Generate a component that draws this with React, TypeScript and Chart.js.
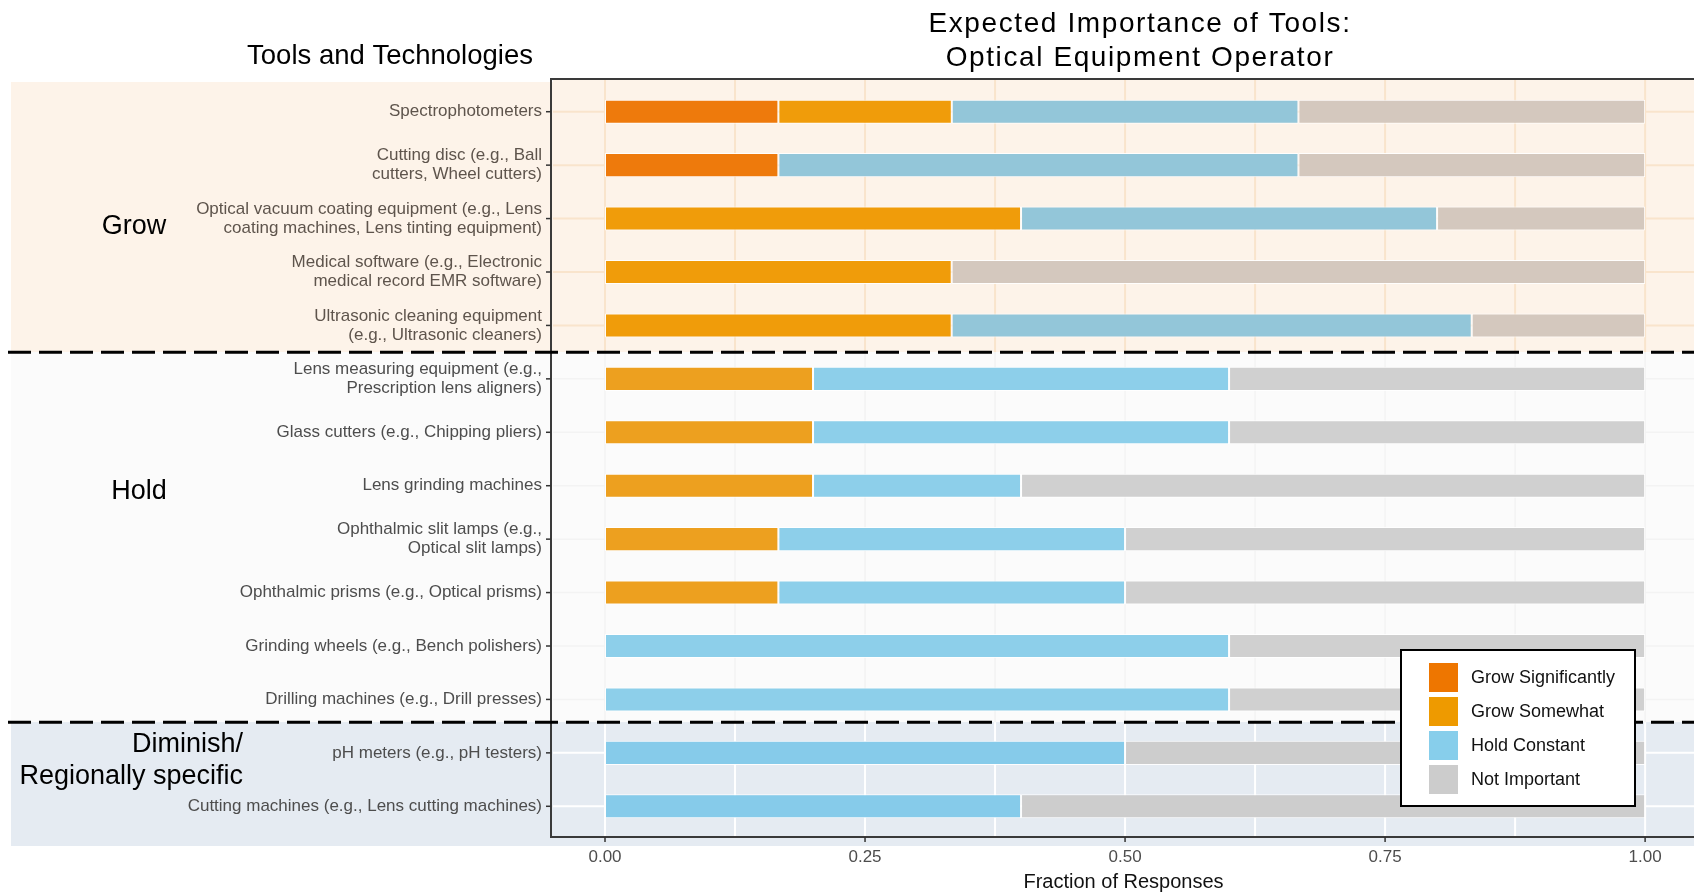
import React, { useEffect, useRef } from "react";
import { Chart, registerables } from "chart.js";

Chart.register(...registerables);

const W = 1694;
const H = 894;

// ---------- data ----------
const categories: (string | string[])[] = [
  "Spectrophotometers",
  ["Cutting disc (e.g., Ball", "cutters, Wheel cutters)"],
  ["Optical vacuum coating equipment (e.g., Lens", "coating machines, Lens tinting equipment)"],
  ["Medical software (e.g., Electronic", "medical record EMR software)"],
  ["Ultrasonic cleaning equipment", "(e.g., Ultrasonic cleaners)"],
  ["Lens measuring equipment (e.g.,", "Prescription lens aligners)"],
  "Glass cutters (e.g., Chipping pliers)",
  "Lens grinding machines",
  ["Ophthalmic slit lamps (e.g.,", "Optical slit lamps)"],
  "Ophthalmic prisms (e.g., Optical prisms)",
  "Grinding wheels (e.g., Bench polishers)",
  "Drilling machines (e.g., Drill presses)",
  "pH meters (e.g., pH testers)",
  "Cutting machines (e.g., Lens cutting machines)",
];

const seriesNames = ["Grow Significantly", "Grow Somewhat", "Hold Constant", "Not Important"];

const growSignificantly = [0.1667, 0.1667, 0, 0, 0, 0, 0, 0, 0, 0, 0, 0, 0, 0];
const growSomewhat = [0.1667, 0, 0.4, 0.3333, 0.3333, 0.2, 0.2, 0.2, 0.1667, 0.1667, 0, 0, 0, 0];
const holdConstant = [0.3333, 0.5, 0.4, 0, 0.5, 0.4, 0.4, 0.2, 0.3333, 0.3333, 0.6, 0.6, 0.5, 0.4];
const notImportant = [0.3333, 0.3333, 0.2, 0.6667, 0.1667, 0.4, 0.4, 0.6, 0.5, 0.5, 0.4, 0.4, 0.5, 0.6];

const xTickValues = [0, 0.25, 0.5, 0.75, 1];
const xMinorValues = [0.125, 0.375, 0.625, 0.875];

const regionNames = ["Grow", "Hold", "Diminish/\nRegionally specific"];
const regionSizes = [5, 7, 2];

// ---------- styles ----------
const legendColors = ["#EE7600", "#EE9A00", "#87CEEB", "#CCCCCC"];
const regionBarColors = [
  ["#EE7A0C", "#F09C0A", "#93C6D9", "#D4C8BE"],
  ["#EE7600", "#EDA01F", "#8DCFEA", "#D0D0D0"],
  ["#EE7600", "#EE9A00", "#86CBEA", "#CDCDCD"],
];
const regionBg = ["#FDF3E9", "#FBFBFB", "#E5EBF2"];
const regionGrid = ["#F9E4CC", "#F3F3F3", "#FFFFFF"];

function regionOf(i: number): number {
  let acc = 0;
  for (let r = 0; r < regionSizes.length; r++) {
    acc += regionSizes[r];
    if (i < acc) return r;
  }
  return regionSizes.length - 1;
}

function narrowAvailable(): boolean {
  try {
    const c = document.createElement("canvas").getContext("2d")!;
    const s = "Spectrophotometers (e.g., Ball)";
    c.font = "20px monospace";
    const a = c.measureText(s).width;
    c.font = '20px "Liberation Sans Narrow", monospace';
    const b = c.measureText(s).width;
    return Math.abs(a - b) > 1;
  } catch (e) {
    return false;
  }
}

export default function App() {
  const ref = useRef<HTMLCanvasElement>(null);

  useEffect(() => {
    document.body.style.margin = "0";
    const narrow = narrowAvailable();
    const tickFont = narrow
      ? { family: '"Liberation Sans Narrow", "Liberation Sans", Arial, sans-serif', size: 20, lineHeight: "19px" }
      : { family: '"Liberation Sans", Arial, sans-serif', size: 17, lineHeight: "19px" };
    const SANS = '"Liberation Sans", Arial, sans-serif';

    const seriesData = [growSignificantly, growSomewhat, holdConstant, notImportant];
    const datasets = seriesData.map((d, s) => ({
      label: seriesNames[s],
      data: d,
      backgroundColor: d.map((_, i) => regionBarColors[regionOf(i)][s]),
      borderColor: "rgba(255,255,255,0.9)",
      borderWidth: 1,
      borderSkipped: false as const,
      barPercentage: 0.45,
      categoryPercentage: 1,
    }));

    const geom = (chart: any) => {
      const { chartArea, scales } = chart;
      const y = scales.y;
      const n = categories.length;
      const panelTop = chartArea.top - 6;
      const panelBottom = chartArea.bottom + 4;
      const bounds: number[] = [];
      let acc = 0;
      const nudge = [0, -4];
      for (let r = 0; r < regionSizes.length - 1; r++) {
        acc += regionSizes[r];
        bounds.push((y.getPixelForValue(acc - 1) + y.getPixelForValue(acc)) / 2 + nudge[r]);
      }
      const regionTop = [panelTop + 3, bounds[0], bounds[1]];
      const regionBottom = [bounds[0], bounds[1], panelBottom + 9];
      return { panelTop, panelBottom, bounds, regionTop, regionBottom, n };
    };

    const decor = {
      id: "decor",
      beforeDraw(chart: any) {
        const { ctx, chartArea, scales } = chart;
        const g = geom(chart);
        const x = scales.x;
        const y = scales.y;
        ctx.save();
        ctx.fillStyle = "#FFFFFF";
        ctx.fillRect(0, 0, W, H);
        for (let r = 0; r < 3; r++) {
          ctx.fillStyle = regionBg[r];
          ctx.fillRect(11, g.regionTop[r], W - 11, g.regionBottom[r] - g.regionTop[r]);
        }
        ctx.fillStyle = regionBg[0];
        ctx.fillRect(chartArea.left, g.panelTop, W - chartArea.left, 4);
        const allV = [...xTickValues, ...xMinorValues];
        for (let r = 0; r < 3; r++) {
          const top = r === 0 ? g.panelTop : g.regionTop[r];
          const bot = r === 2 ? g.panelBottom : g.regionBottom[r];
          ctx.strokeStyle = regionGrid[r];
          ctx.lineWidth = r === 1 ? 1.5 : 2;
          for (const v of allV) {
            const px = x.getPixelForValue(v);
            ctx.beginPath();
            ctx.moveTo(px, top);
            ctx.lineTo(px, bot);
            ctx.stroke();
          }
        }
        for (let i = 0; i < g.n; i++) {
          const r = regionOf(i);
          const py = y.getPixelForValue(i);
          ctx.strokeStyle = regionGrid[r];
          ctx.lineWidth = r === 1 ? 1.5 : 2;
          ctx.beginPath();
          ctx.moveTo(chartArea.left, py);
          ctx.lineTo(W, py);
          ctx.stroke();
        }
        ctx.restore();
      },
      afterDraw(chart: any) {
        const { ctx, chartArea, scales } = chart;
        const g = geom(chart);
        const x = scales.x;
        const y = scales.y;
        const left = chartArea.left - 2;
        ctx.save();
        ctx.strokeStyle = "#3A3A3A";
        ctx.lineWidth = 2;
        ctx.beginPath();
        ctx.moveTo(W, g.panelTop);
        ctx.lineTo(left, g.panelTop);
        ctx.lineTo(left, g.panelBottom);
        ctx.lineTo(W, g.panelBottom);
        ctx.stroke();
        ctx.strokeStyle = "#333333";
        ctx.lineWidth = 1.5;
        for (let i = 0; i < g.n; i++) {
          const py = y.getPixelForValue(i);
          ctx.beginPath();
          ctx.moveTo(left - 5, py);
          ctx.lineTo(left, py);
          ctx.stroke();
        }
        for (const v of xTickValues) {
          const px = x.getPixelForValue(v);
          ctx.beginPath();
          ctx.moveTo(px, g.panelBottom);
          ctx.lineTo(px, g.panelBottom + 5);
          ctx.stroke();
        }
        ctx.strokeStyle = "#000000";
        ctx.lineWidth = 3;
        ctx.setLineDash([23, 8]);
        for (const b of g.bounds) {
          ctx.beginPath();
          ctx.moveTo(8, b);
          ctx.lineTo(W, b);
          ctx.stroke();
        }
        ctx.setLineDash([]);

        ctx.fillStyle = "#000000";
        ctx.font = `27px ${SANS}`;
        ctx.textBaseline = "middle";
        ctx.textAlign = "center";
        ctx.fillText(regionNames[0], 134, 227);
        ctx.fillText(regionNames[1], 139, 492);
        const dimLines = regionNames[2].split("\n");
        ctx.textAlign = "right";
        ctx.fillText(dimLines[0], 243, 745);
        ctx.fillText(dimLines[1], 243, 777);

        ctx.textAlign = "center";
        ctx.textBaseline = "alphabetic";
        ctx.font = `27.5px ${SANS}`;
        ctx.fillText("Tools and Technologies", 390, 64);
        ctx.font = `28px ${SANS}`;
        (ctx as any).letterSpacing = "1.6px";
        ctx.fillText("Expected Importance of Tools:", 1140, 32);
        ctx.fillText("Optical Equipment Operator", 1140, 66);
        (ctx as any).letterSpacing = "0px";

        const lx = 1401, ly = 650, lw = 234, lh = 156;
        ctx.fillStyle = "#FFFFFF";
        ctx.fillRect(lx, ly, lw, lh);
        ctx.strokeStyle = "#000000";
        ctx.lineWidth = 2;
        ctx.strokeRect(lx, ly, lw, lh);
        ctx.font = `18px ${SANS}`;
        ctx.textAlign = "left";
        ctx.textBaseline = "middle";
        chart.data.datasets.forEach((ds: any, s: number) => {
          const sy = ly + 13 + s * 34;
          ctx.fillStyle = legendColors[s];
          ctx.fillRect(lx + 28, sy, 29, 29);
          ctx.fillStyle = "#111111";
          ctx.fillText(ds.label, lx + 70, sy + 15);
        });
        ctx.restore();
      },
    };

    const chart = new Chart(ref.current!, {
      type: "bar",
      data: { labels: categories as any, datasets: datasets as any },
      plugins: [decor],
      options: {
        indexAxis: "y",
        responsive: false,
        animation: false,
        devicePixelRatio: 1,
        layout: { padding: { top: 85, left: 0, right: 0, bottom: 0 } },
        plugins: {
          legend: { display: false },
          tooltip: { enabled: false },
          title: { display: false },
        },
        scales: {
          x: {
            type: "linear",
            stacked: true,
            min: -0.05,
            max: 1.047,
            afterBuildTicks: (s: any) => {
              s.ticks = xTickValues.map((v) => ({ value: v }));
            },
            afterFit: (s: any) => {
              s.height = 61;
            },
            ticks: {
              callback: (v: any) => Number(v).toFixed(2),
              color: "#4D4D4D",
              font: { family: tickFont.family, size: tickFont.size },
              padding: 14,
              autoSkip: false,
              maxRotation: 0,
            },
            grid: { display: false, drawTicks: false },
            border: { display: false },
            title: {
              display: true,
              text: "Fraction of Responses",
              color: "#111111",
              font: { family: SANS, size: 20 },
              padding: { top: 0, bottom: 0 },
            },
          },
          y: {
            type: "category",
            stacked: true,
            afterFit: (s: any) => {
              s.width = 553;
            },
            ticks: {
              color: (c: any) => (regionOf(c.index) === 0 ? "#5E544C" : "#4D4D4D"),
              font: tickFont as any,
              padding: 11,
              autoSkip: false,
            },
            grid: { display: false, drawTicks: false },
            border: { display: false },
          },
        },
      } as any,
    });
    return () => chart.destroy();
  }, []);

  return (
    <div style={{ position: "absolute", left: 0, top: 0, width: W, height: H, overflow: "hidden" }}>
      <canvas ref={ref} width={W} height={H} style={{ width: W, height: H, display: "block" }} />
    </div>
  );
}
